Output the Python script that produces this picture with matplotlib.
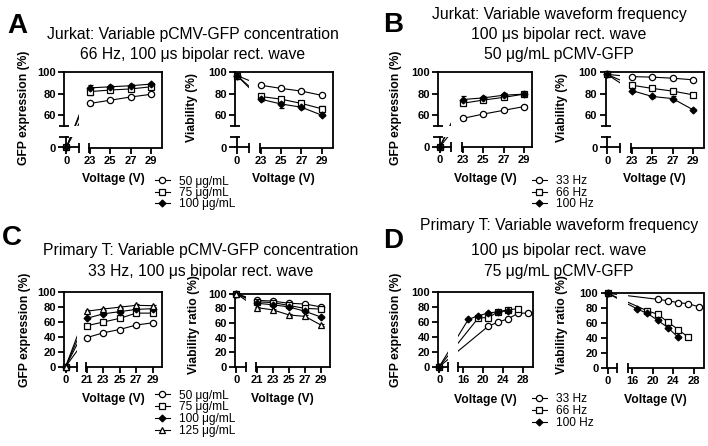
import numpy as np
import matplotlib
matplotlib.use('Agg')
import matplotlib.pyplot as plt
from matplotlib.lines import Line2D
from matplotlib.path import Path
from matplotlib.spines import Spine

plt.rcParams['font.family'] = ['Liberation Sans', 'DejaVu Sans']

# ------------------------------------------------------------------ data
conc_labels = ['50 μg/mL', '75 μg/mL', '100 μg/mL', '125 μg/mL']
freq_labels = ['33 Hz', '66 Hz', '100 Hz']

# Panel A: Jurkat, variable pCMV-GFP concentration
volt_A = [0, 23, 25, 27, 29]
A_gfp_50 = [0, 71, 74, 77, 79.5]
A_gfp_75 = [0, 82, 83.5, 84.5, 86.5]
A_gfp_100 = [0, 85.5, 86.5, 87.5, 89]
A_gfp_50_err = [0, 1, 1, 1, 1]
A_gfp_75_err = [0, 3, 1.5, 1.5, 1]
A_gfp_100_err = [0, 2.5, 2, 1.5, 1.5]
A_via_50 = [97, 88, 85, 82.5, 78.5]
A_via_75 = [97, 77.5, 75, 71, 66]
A_via_100 = [97, 75, 70.5, 67.5, 60]
A_via_50_err = [1, 1, 1.5, 1, 1]
A_via_75_err = [1, 1.5, 2, 1.5, 3]
A_via_100_err = [1, 1.5, 3.5, 1.5, 1]

# Panel B: Jurkat, variable waveform frequency
volt_B = [0, 23, 25, 27, 29]
B_gfp_33 = [0, 57, 61, 64.5, 68]
B_gfp_66 = [0, 71, 74, 76.5, 79.5]
B_gfp_100 = [0, 74.5, 76, 78.5, 79.5]
B_gfp_33_err = [0, 1, 1, 1, 1.5]
B_gfp_66_err = [0, 2, 1, 1, 1]
B_gfp_100_err = [0, 3.5, 2, 2.5, 1]
B_via_33 = [98, 96, 95.5, 94.5, 93]
B_via_66 = [98, 88, 85, 82.5, 79]
B_via_100 = [98, 83, 77.5, 75.5, 65]
B_via_33_err = [1, 1, 1, 1, 1]
B_via_66_err = [1, 1.5, 1.5, 1, 1]
B_via_100_err = [1, 1.5, 1, 2, 1]

# Panel C: Primary T, variable pCMV-GFP concentration
volt_C = [0, 21, 23, 25, 27, 29]
C_gfp_50 = [0, 39, 45.5, 50, 56, 59]
C_gfp_75 = [0, 55, 60, 65, 72, 72]
C_gfp_100 = [0, 65, 71, 74, 77, 78]
C_gfp_125 = [0, 74.5, 77.5, 80, 82.5, 82]
C_gfp_err = [0, 1.5, 1.5, 1.5, 2, 1.5]
C_via_50 = [100, 91, 90, 87, 86, 82]
C_via_75 = [100, 89, 88, 84, 80, 79]
C_via_100 = [100, 87, 85, 82, 76, 68]
C_via_125 = [100, 81, 78, 71, 69, 57]
C_via_err = [0, 1.5, 1.5, 1.5, 2, 1.5]

# Panel D: Primary T, variable waveform frequency
D_volt_33 = [0, 21, 23, 25, 27, 29]
D_volt_66 = [0, 19, 21, 23, 25, 27]
D_volt_100 = [0, 17, 19, 21, 23, 25]
D_gfp_33 = [0, 54.5, 60, 64.5, 72, 72]
D_gfp_66 = [0, 65.5, 66, 74, 76.5, 78]
D_gfp_100 = [0, 63.5, 68.5, 72, 74, 75]
D_via_33 = [100, 92, 90, 87.5, 86, 82]
D_via_66 = [100, 76.5, 72, 61.5, 51.5, 41]
D_via_100 = [100, 79, 73, 64, 54, 41]
D_err = [0, 1, 1, 1, 1, 1]

# ------------------------------------------------------------------ layout
W, H = 708, 446
fig = plt.figure(figsize=(W / 100, H / 100), dpi=100)
fig.patch.set_facecolor('white')

LW = 1.3
STYLE = {'o': dict(ms=4.5, fill='white'), 's': dict(ms=4.5, fill='white'),
         'D': dict(ms=3.5, fill='black'), '^': dict(ms=4.7, fill='white')}


def px_scale(dbp, pbp):
    d = np.asarray(dbp, float)
    p = np.asarray(pbp, float)
    s0 = (p[1] - p[0]) / (d[1] - d[0])
    s1 = (p[-1] - p[-2]) / (d[-1] - d[-2])

    def f(v):
        v = np.asarray(v, float)
        o = np.interp(v, d, p)
        o = np.where(v < d[0], p[0] + (v - d[0]) * s0, o)
        o = np.where(v > d[-1], p[-1] + (v - d[-1]) * s1, o)
        return o

    def g(q):
        q = np.asarray(q, float)
        o = np.interp(q, p, d)
        o = np.where(q < p[0], d[0] + (q - p[0]) / s0, o)
        o = np.where(q > p[-1], d[-1] + (q - p[-1]) / s1, o)
        return o
    return f, g


def make_axes(xd, xp, yd, yp, xticks, yticks, ylabel, ylab_xy, xlab_top):
    L, R = xp[0], xp[-1]
    top, bot = yp[-1], yp[0]
    ax = fig.add_axes([L / W, 1 - bot / H, (R - L) / W, (bot - top) / H])
    ax.set_facecolor('none')
    ax.set_xscale('function', functions=px_scale(xd, xp))
    ax.set_yscale('function', functions=px_scale(yd, [-v for v in yp]))
    ax.set_xlim(xd[0], xd[-1])
    ax.set_ylim(yd[0], yd[-1])
    for s in ax.spines.values():
        s.set_linewidth(LW)
    ax.spines['bottom'].set_bounds(xd[2], xd[3])
    sp = Spine.linear_spine(ax, 'bottom')
    sp.set_bounds(xd[0], xd[1])
    sp.set_linewidth(LW)
    ax.spines['bottom0'] = sp
    if len(yd) == 4:
        ax.spines['left'].set_bounds(yd[2], yd[3])
        sp2 = Spine.linear_spine(ax, 'left')
        sp2.set_bounds(yd[0], yd[1])
        sp2.set_linewidth(LW)
        ax.spines['left0'] = sp2
        ax.set_yticks([yd[1], yd[2]], minor=True, labels=['', ''])
    ax.set_xticks([xd[1], xd[2]], minor=True, labels=['', ''])
    ax.set_xticks(xticks, labels=[str(t) for t in xticks])
    ax.set_yticks(yticks, labels=[str(t) for t in yticks])
    ax.tick_params(which='major', direction='out', length=4, width=LW,
                   labelsize=8, pad=2)
    ax.tick_params(which='minor', direction='inout', length=7, width=LW)
    for lab in ax.get_xticklabels() + ax.get_yticklabels():
        lab.set_fontweight('bold')
    ax.set_ylabel(ylabel, fontsize=8.7, fontweight='bold')
    ax.yaxis.label.set_va('center')
    ax.yaxis.set_label_coords(ylab_xy[0] / W, 1 - ylab_xy[1] / H,
                              transform=fig.transFigure)
    ax.set_xlabel('Voltage (V)', fontsize=8.7, fontweight='bold')
    ax.xaxis.set_label_coords((L + R) / 2 / W, 1 - xlab_top / H,
                              transform=fig.transFigure)
    # clip region: union of the axis segments
    xs = [(xd[0], xd[1]), (xd[2], xd[3])]
    ys = [(yd[0], yd[1]), (yd[2], yd[3])] if len(yd) == 4 else [(yd[0], yd[1])]
    verts, codes = [], []
    for (x0, x1) in xs:
        for (y0, y1) in ys:
            verts += [(x0, y0), (x1, y0), (x1, y1), (x0, y1), (x0, y0)]
            codes += [Path.MOVETO, Path.LINETO, Path.LINETO, Path.LINETO,
                      Path.CLOSEPOLY]
    ax._clip = Path(verts, codes)
    return ax


def series(ax, x, y, err, marker):
    ln, = ax.plot(x, y, color='black', lw=0.8, zorder=2)
    ln.set_clip_path(ax._clip, ax.transData)
    st = STYLE[marker]
    ax.errorbar(x, y, yerr=err, fmt=marker, ms=st['ms'], mfc=st['fill'],
                mec='black', mew=0.9, ecolor='black', elinewidth=0.8,
                capsize=1.8, capthick=0.8, clip_on=False, zorder=3)


def legend(labels, markers, x_px, y_px, spacing):
    handles = [Line2D([], [], color='black', lw=0.8, marker=m,
                      ms=STYLE[m]['ms'], mfc=STYLE[m]['fill'], mec='black',
                      mew=0.9) for m in markers]
    fig.legend(handles, labels, loc='upper left',
               bbox_to_anchor=(x_px / W, 1 - y_px / H), frameon=False,
               fontsize=8.6, handlelength=1.25, handletextpad=0.8,
               labelspacing=spacing, borderpad=0, borderaxespad=0)


yd_brk = [0, 10, 50, 100]
yt_brk = [0, 60, 80, 100]
yt_full = [0, 20, 40, 60, 80, 100]
m3 = ['o', 's', 'D']
m4 = ['o', 's', 'D', '^']

# ---- Panel A
ax = make_axes([-0.2, 1.25, 22.95, 30.05], [64.3, 78.7, 89.3, 161.7],
               yd_brk, [147.5, 137, 126, 72.3], volt_A, yt_brk,
               'GFP expression (%)', (24.5, 108), 173)
for yv, ev, m in zip([A_gfp_50, A_gfp_75, A_gfp_100],
                     [A_gfp_50_err, A_gfp_75_err, A_gfp_100_err], m3):
    series(ax, volt_A, yv, ev, m)
ax = make_axes([-0.2, 1.25, 22.95, 30.05], [235, 249, 260, 332.7],
               yd_brk, [147.5, 137, 126, 72.3], volt_A, yt_brk,
               'Viability (%)', (192.5, 108), 173)
for yv, ev, m in zip([A_via_50, A_via_75, A_via_100],
                     [A_via_50_err, A_via_75_err, A_via_100_err], m3):
    series(ax, volt_A, yv, ev, m)
legend(conc_labels[:3], m3, 155, 175.5, -0.05)

# ---- Panel B
ax = make_axes([-0.15, 1.2, 22.95, 29.8], [438.3, 450.7, 462, 532.3],
               yd_brk, [147, 136.7, 126, 72], volt_B, yt_brk,
               'GFP expression (%)', (396.5, 108), 173)
for yv, ev, m in zip([B_gfp_33, B_gfp_66, B_gfp_100],
                     [B_gfp_33_err, B_gfp_66_err, B_gfp_100_err], m3):
    series(ax, volt_B, yv, ev, m)
ax = make_axes([-0.15, 1.25, 22.95, 30.05], [605.7, 620, 631.2, 704],
               yd_brk, [147.5, 137, 126, 72.3], volt_B, yt_brk,
               'Viability (%)', (562.5, 107), 173)
for yv, ev, m in zip([B_via_33, B_via_66, B_via_100],
                     [B_via_33_err, B_via_66_err, B_via_100_err], m3):
    series(ax, volt_B, yv, ev, m)
legend(freq_labels, m3, 532, 175.5, -0.05)

# ---- Panel C
ax = make_axes([-0.15, 1.3, 20.92, 30.07], [64.3, 76.7, 86, 161.5],
               [0, 100], [366.7, 292.3], volt_C, yt_full,
               'GFP expression (%)', (25, 330), 393)
for yv, m in zip([C_gfp_50, C_gfp_75, C_gfp_100, C_gfp_125], m4):
    series(ax, volt_C, yv, C_gfp_err, m)
ax = make_axes([-0.15, 1.3, 20.88, 30.1], [235.3, 245.7, 255.7, 330],
               [0, 100], [366.7, 293.8], volt_C, yt_full,
               'Viability ratio (%)', (194.5, 325), 393)
for yv, m in zip([C_via_50, C_via_75, C_via_100, C_via_125], m4):
    series(ax, volt_C, yv, C_via_err, m)
legend(conc_labels, m4, 155, 389.5, -0.02)

# ---- Panel D
ax = make_axes([-0.15, 1.5, 15, 30], [438.3, 448.3, 458.3, 533.3],
               [0, 100], [366.7, 292.3], [0, 16, 20, 24, 28], yt_full,
               'GFP expression (%)', (396.5, 330), 394.5)
for xv, yv, m in zip([D_volt_33, D_volt_66, D_volt_100],
                     [D_gfp_33, D_gfp_66, D_gfp_100], m3):
    series(ax, xv, yv, D_err, m)
ax = make_axes([-0.15, 1.5, 15.15, 29.95], [606.7, 617.3, 627.7, 703.5],
               [0, 100], [368, 293.3], [0, 16, 20, 24, 28], yt_full,
               'Viability ratio (%)', (562.5, 325), 394.5)
for xv, yv, m in zip([D_volt_33, D_volt_66, D_volt_100],
                     [D_via_33, D_via_66, D_via_100], m3):
    series(ax, xv, yv, D_err, m)
legend(freq_labels, m3, 532, 393.5, 0.0)

# ---- titles and panel letters
def ftext(x, y, s, **kw):
    fig.text(x / W, 1 - y / H, s, va='baseline', **kw)

TS = 11.3
ftext(193, 38.5, 'Jurkat: Variable pCMV-GFP concentration', ha='center', fontsize=TS)
ftext(193, 59, '66 Hz, 100 μs bipolar rect. wave', ha='center', fontsize=TS)
ftext(559, 19.5, 'Jurkat: Variable waveform frequency', ha='center', fontsize=TS)
ftext(559, 38.5, '100 μs bipolar rect. wave', ha='center', fontsize=TS)
ftext(559, 59, '50 μg/mL pCMV-GFP', ha='center', fontsize=TS)
ftext(201, 255, 'Primary T: Variable pCMV-GFP concentration', ha='center', fontsize=TS)
ftext(201, 276, '33 Hz, 100 μs bipolar rect. wave', ha='center', fontsize=TS)
ftext(559, 230, 'Primary T: Variable waveform frequency', ha='center', fontsize=TS)
ftext(559, 255, '100 μs bipolar rect. wave', ha='center', fontsize=TS)
ftext(559, 276, '75 μg/mL pCMV-GFP', ha='center', fontsize=TS)

LS = 20
ftext(7, 33, 'A', ha='left', fontsize=LS, fontweight='bold')
ftext(383, 32, 'B', ha='left', fontsize=LS, fontweight='bold')
ftext(2, 245, 'C', ha='left', fontsize=LS, fontweight='bold')
ftext(383, 248, 'D', ha='left', fontsize=LS, fontweight='bold')

fig.savefig('out.png', dpi=100)
